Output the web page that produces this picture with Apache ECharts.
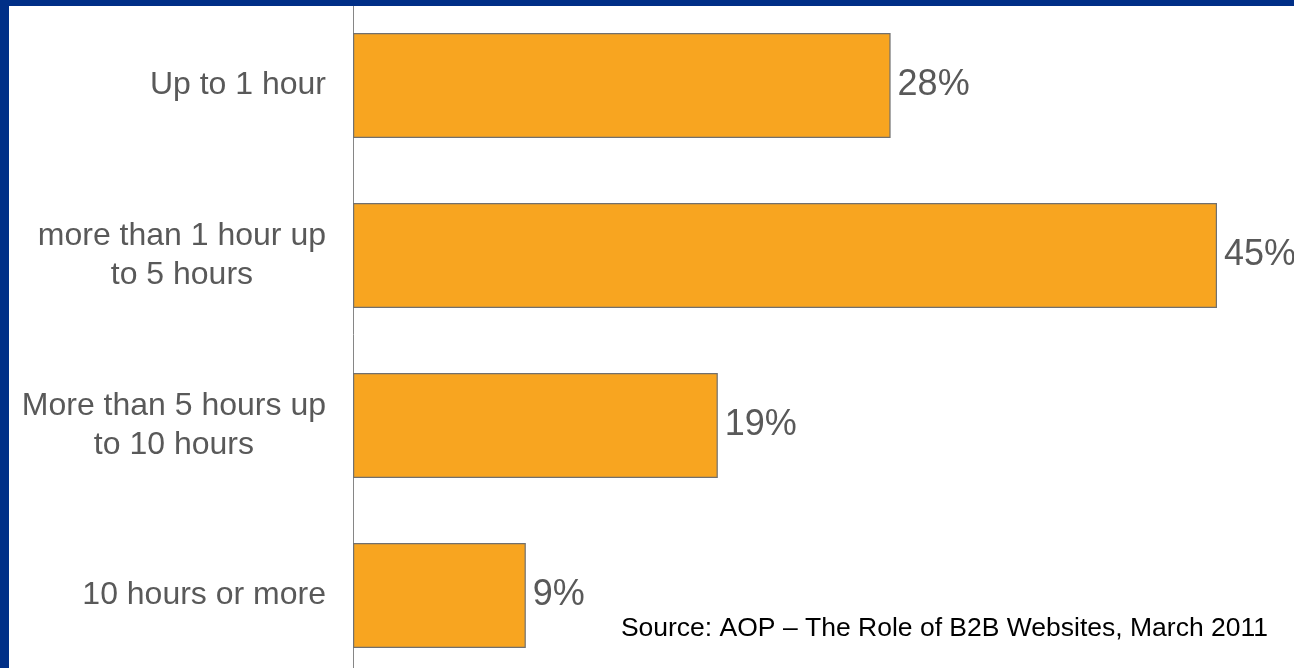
<!DOCTYPE html>
<html>
<head>
<meta charset="utf-8">
<script src="https://cdn.jsdelivr.net/npm/echarts@6/dist/echarts.min.js"></script>
<style>
html,body{margin:0;padding:0;background:#fff;}
#c{width:1294px;height:668px;}
</style>
</head>
<body>
<div id="c"></div>
<script>
const categories = ["Up to 1 hour", "more than 1 hour up\nto 5 hours", "More than 5 hours up\nto 10 hours", "10 hours or more"];
const values = [28, 45, 19, 9];
const sourceText = "Source: AOP \u2013 The Role of B2B Websites, March 2011";

const FONT = 'Arial, "Liberation Sans", sans-serif';
const chart = echarts.init(document.getElementById('c'));
chart.setOption({
  backgroundColor: '#ffffff',
  animation: false,
  grid: { left: 353, right: 77, top: 0.5, height: 680, containLabel: false, outerBoundsMode: 'none' },
  xAxis: {
    type: 'value', min: 0, max: 45, show: false
  },
  yAxis: {
    type: 'category', data: categories, inverse: true,
    axisLine: { show: true, lineStyle: { color: '#868686', width: 1 } },
    axisTick: { show: false },
    axisLabel: {
      margin: 27, fontSize: 32, lineHeight: 39, color: '#595959',
      fontFamily: FONT, align: 'right',
      formatter: function (v) {
        return v.split('\n').map(function (s) { return '{a|' + s + '}'; }).join('\n');
      },
      rich: {
        a: { align: 'center', fontSize: 32, lineHeight: 39, color: '#595959', fontFamily: FONT }
      }
    }
  },
  series: [{
    type: 'bar', data: values, barWidth: 105,
    itemStyle: { color: '#F8A520', borderColor: '#707070', borderWidth: 1.2 },
    label: {
      show: true, position: 'right', distance: 7, formatter: '{c}%',
      fontSize: 36, color: '#595959', fontFamily: FONT
    }
  }],
  graphic: [
    { type: 'rect', left: 0, top: 0, z: 100, shape: { width: 1294, height: 6 }, style: { fill: '#002F87' } },
    { type: 'rect', left: 0, top: 0, z: 100, shape: { width: 9, height: 668 }, style: { fill: '#002F87' } },
    { type: 'text', right: 26, top: 615, z: 100, style: { text: sourceText, fontSize: 26.5, fill: '#000000', fontFamily: FONT } }
  ]
});
</script>
</body>
</html>
